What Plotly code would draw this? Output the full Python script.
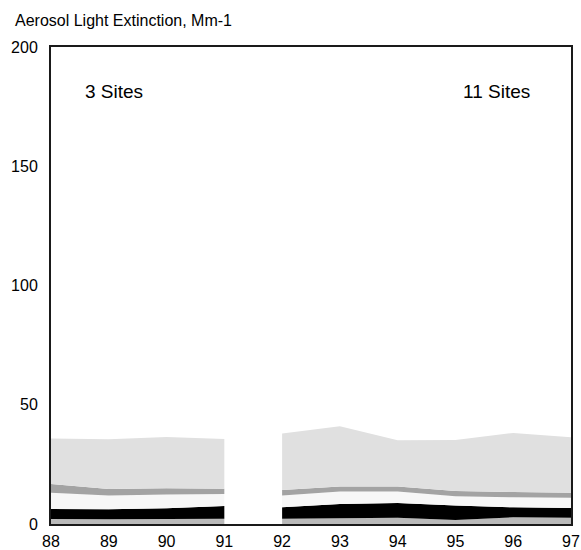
import plotly.graph_objects as go

years = [88, 89, 90, 91, 92, 93, 94, 95, 96, 97]
# layer thicknesses, bottom to top
layer1 = [2.1, 2.0, 2.1, 2.2, 2.2, 2.4, 2.6, 1.7, 2.8, 2.6]
layer2 = [4.2, 4.2, 4.5, 5.3, 4.8, 6.0, 6.2, 6.1, 4.2, 4.1]
layer3 = [6.8, 5.7, 5.8, 5.1, 4.9, 5.2, 4.8, 3.8, 4.2, 4.3]
layer4 = [3.7, 2.8, 2.6, 2.2, 2.4, 2.1, 2.1, 2.2, 2.2, 2.1]
layer5 = [19.0, 20.8, 21.5, 20.8, 23.6, 25.3, 19.4, 21.4, 24.8, 23.3]
layers = [layer1, layer2, layer3, layer4, layer5]
colors = ["#bababa", "#000000", "#f7f7f7", "#a3a3a3", "#e0e0e0"]
y_ticks = [0, 50, 100, 150, 200]

segments = [(0, 4, "a"), (4, 10, "b")]

fig = go.Figure()
for s, e, g in segments:
    for vals, c in zip(layers, colors):
        fig.add_trace(go.Scatter(
            x=years[s:e], y=vals[s:e], stackgroup=g, mode="none",
            fillcolor=c, line=dict(width=0), showlegend=False,
            hoverinfo="skip"))

L, R, T, B = 51, 10, 47, 26
W, H = 581, 550
pw, ph = W - L - R, H - T - B

font = dict(family="Liberation Sans, Arial, sans-serif", color="black")
axis_common = dict(showgrid=False, zeroline=False, showline=True, linecolor="#1a1a1a",
                   linewidth=2, mirror=True, ticks="", automargin=False,
                   tickfont=dict(size=16))
fig.update_layout(
    width=W, height=H,
    margin=dict(l=L, r=R, t=T, b=B),
    paper_bgcolor="white", plot_bgcolor="white",
    font=dict(**font, size=16),
    xaxis=dict(range=[88, 97], tickvals=years, ticktext=[str(y) for y in years],
               ticklabelstandoff=2, **axis_common),
    yaxis=dict(range=[0, 200], tickvals=y_ticks, ticklabelstandoff=8, **axis_common),
    annotations=[
        dict(text="Aerosol Light Extinction, Mm-1", x=(12.5 - L) / pw, y=1 + (T - 21) / ph,
             xref="paper", yref="paper", showarrow=False, xanchor="left",
             yanchor="middle", font=dict(size=16)),
        dict(text="3 Sites", x=(83 - L) / pw, y=1 - (91 - T) / ph, xref="paper", yref="paper",
             showarrow=False, xanchor="left", yanchor="middle", font=dict(size=19)),
        dict(text="11 Sites", x=(532 - L) / pw, y=1 - (91 - T) / ph, xref="paper", yref="paper",
             showarrow=False, xanchor="right", yanchor="middle", font=dict(size=19)),
    ],
)
fig.write_html("out.html", config={"displayModeBar": False},
               post_script="document.body.style.margin='0px';document.body.style.overflow='hidden';")
